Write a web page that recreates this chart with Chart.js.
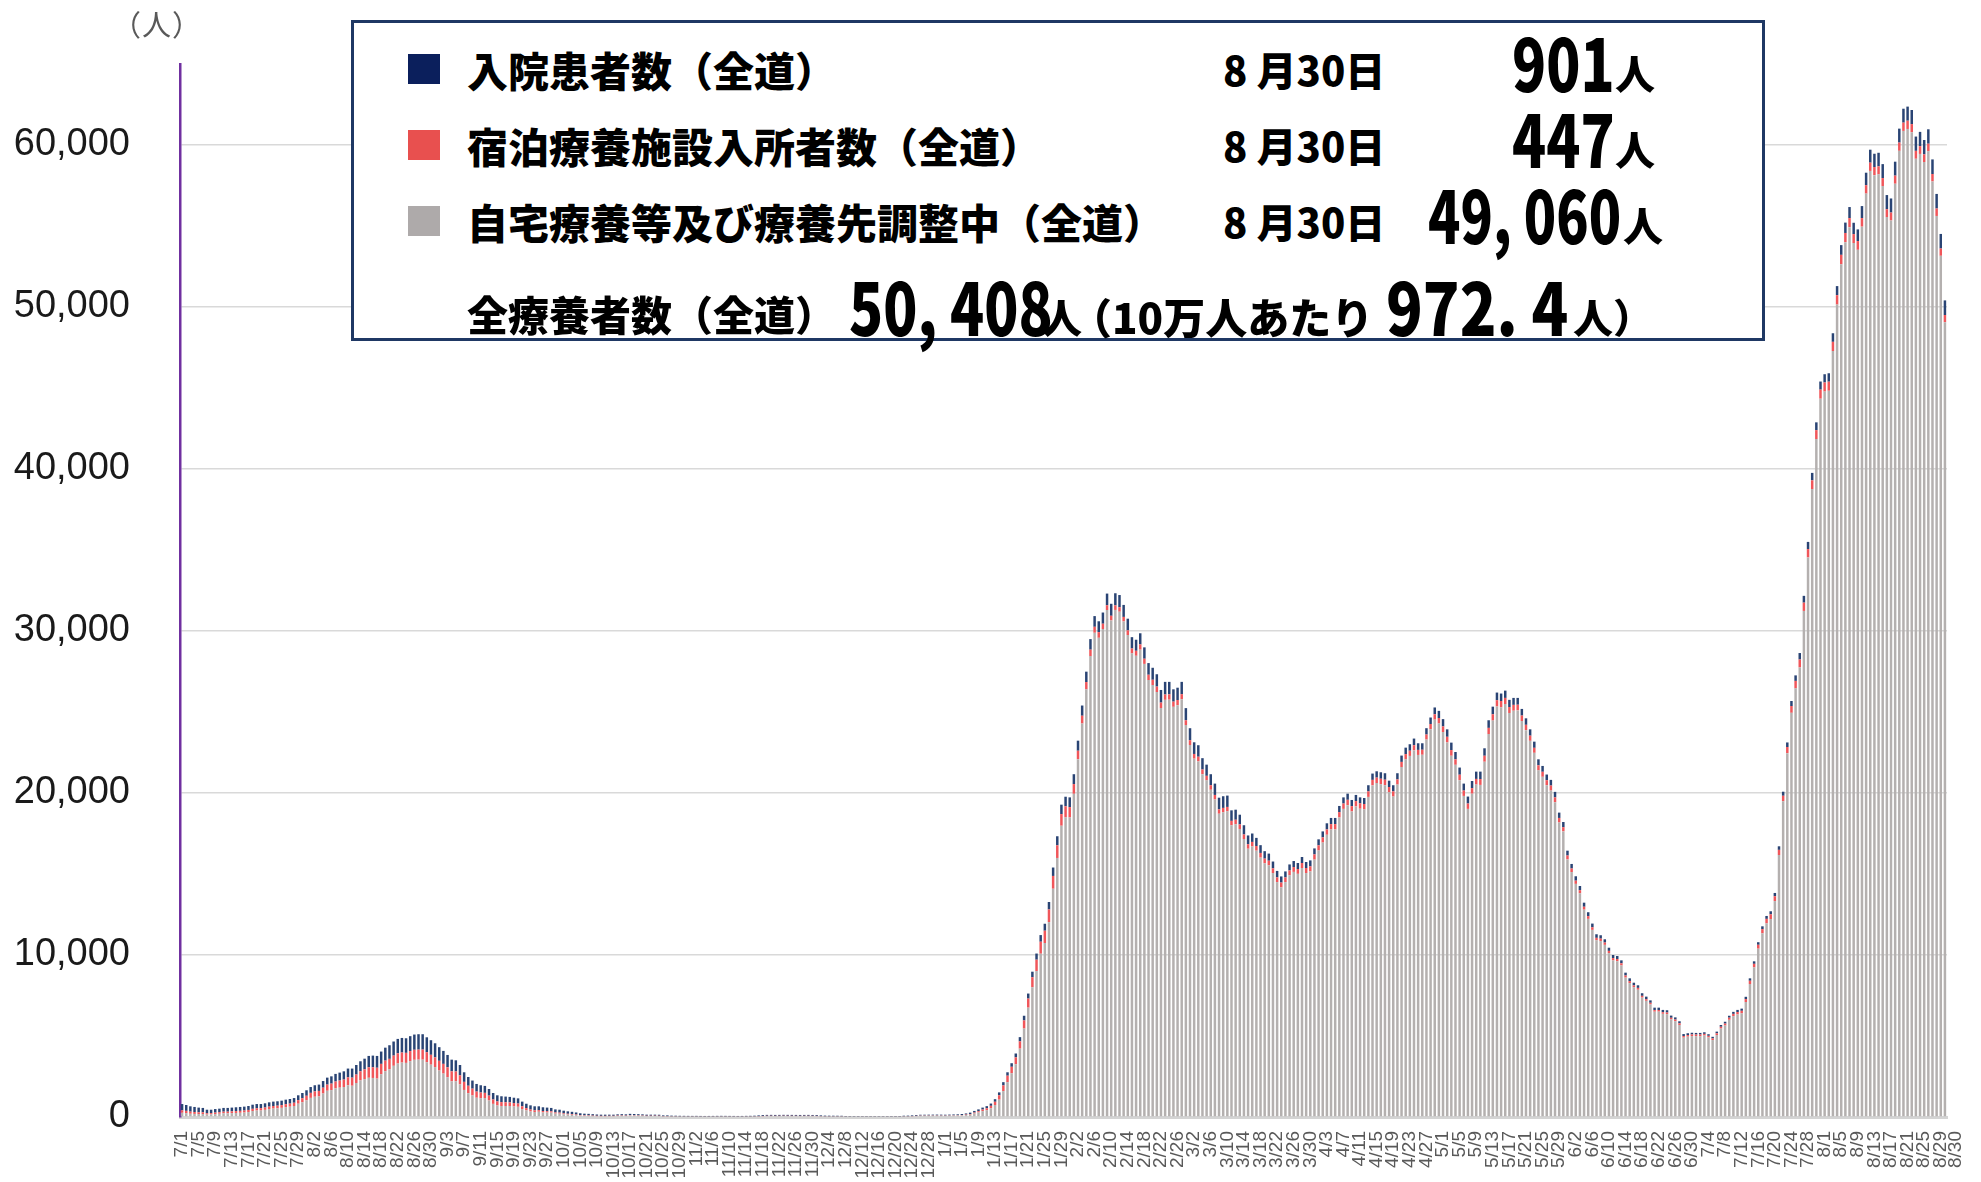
<!DOCTYPE html>
<html lang="ja">
<head>
<meta charset="utf-8">
<title>療養者数の推移（全道）</title>
<script src="https://cdn.jsdelivr.net/npm/chart.js@4.4.1/dist/chart.umd.min.js"></script>
<style>
  html, body { margin: 0; padding: 0; background: #fff; }
  #wrap { position: relative; width: 1981px; height: 1182px; overflow: hidden; }
  #chart { position: absolute; left: 0; top: 0; }
  .unit { position: absolute; left: 112px; top: 2px; font-size: 29px; font-family: "Noto Sans CJK JP"; color: #595959; letter-spacing: 1px; }
  #box { position: absolute; left: 351px; top: 20px; width: 1414px; height: 321px; box-sizing: border-box; border: 3px solid #1f3864; background: #fff; }
  .t { position: absolute; white-space: nowrap; font-family: "Noto Sans CJK JP"; font-weight: 900; color: #000; line-height: 1; transform-origin: left center; }
  .sq { position: absolute; left: 408px; width: 32px; height: 30px; }
  .num { font-size: 72px; }
</style>
</head>
<body>
<div id="wrap">
  <canvas id="chart" width="1981" height="1182"></canvas>
  <div class="unit">（人）</div>
  <div id="box"></div>

  <div class="sq" style="top:54px;background:#0b1f5c"></div>
  <div class="sq" style="top:130px;background:#e8504f"></div>
  <div class="sq" style="top:206px;background:#aeaaaa"></div>

  <div class="t" style="left:467px;top:69px;font-size:41px;transform:translateY(-50%)">入院患者数（全道）</div>
  <div class="t" style="left:467px;top:145px;font-size:41px;transform:translateY(-50%)">宿泊療養施設入所者数（全道）</div>
  <div class="t" style="left:467px;top:221px;font-size:41px;transform:translateY(-50%)">自宅療養等及び療養先調整中（全道）</div>
  <div class="t" style="left:467px;top:313px;font-size:41px;transform:translateY(-50%)">全療養者数（全道）</div>

  <div class="t day" style="left:1223px;top:69px;font-size:40px;transform:translateY(-50%)"></div>
  <div class="t day" style="left:1223px;top:145px;font-size:40px;transform:translateY(-50%)"></div>
  <div class="t day" style="left:1223px;top:221px;font-size:40px;transform:translateY(-50%)"></div>

  <div class="t num" id="nHosp" style="left:1512px;top:61px;transform:translateY(-50%) scaleX(.78)"></div>
  <div class="t num" id="nHotel" style="left:1512px;top:137px;transform:translateY(-50%) scaleX(.78)"></div>
  <div class="t num" id="nHome" style="left:1428px;top:213px;transform:translateY(-50%) scaleX(.74)"></div>
  <div class="t" style="left:1615px;top:72px;font-size:40px;transform:translateY(-50%)">人</div>
  <div class="t" style="left:1615px;top:148px;font-size:40px;transform:translateY(-50%)">人</div>
  <div class="t" style="left:1623px;top:224px;font-size:40px;transform:translateY(-50%)">人</div>

  <div class="t num" id="nTotal" style="left:849px;top:305px;transform:translateY(-50%) scaleX(.78)"></div>
  <div class="t" style="left:1042px;top:316px;font-size:40px;transform:translateY(-50%)">人</div>
  <div class="t" style="left:1070px;top:316px;font-size:42px;transform:translateY(-50%)">（10万人あたり</div>
  <div class="t num" style="left:1386px;top:305px;transform:translateY(-50%) scaleX(.84)">972. 4</div>
  <div class="t" style="left:1573px;top:316px;font-size:40px;transform:translateY(-50%)">人）</div>
</div>

<script>
// 2021/7/1 ～ 2022/8/30 の日別療養者数
const startDate = new Date(2021, 6, 1);

// 入院患者数
const hosp = [
  390,360,330,310,290,270,220,210,220,220,
  230,230,230,235,240,240,245,255,260,255,
  260,265,270,270,275,280,285,290,300,320,
  340,360,380,390,410,430,450,470,490,510,
  540,560,590,620,660,700,720,730,760,800,
  840,870,890,900,900,920,940,950,950,920,
  900,870,840,800,760,720,690,640,590,540,
  500,470,450,430,410,400,380,360,350,340,
  330,320,290,270,260,250,240,230,220,210,
  190,180,165,150,140,125,110,100,95,90,
  80,75,75,72,72,75,78,75,80,78,
  75,72,68,66,65,62,50,50,45,44,
  42,41,40,39,40,38,37,38,39,40,
  41,40,39,38,37,38,40,42,45,50,
  55,56,57,56,56,57,57,56,55,55,
  55,56,54,52,48,44,43,42,41,40,
  32,31,30,30,29,29,28,28,28,28,
  29,30,31,32,40,42,46,50,52,52,
  53,54,55,54,53,55,56,58,62,70,
  85,100,110,120,130,140,160,180,200,210,
  220,240,260,290,310,340,380,410,430,460,
  520,560,580,590,600,610,620,630,640,650,
  660,670,690,720,740,750,750,740,720,700,
  680,690,700,720,740,760,780,780,770,760,
  760,760,750,740,720,710,700,690,680,700,
  720,720,700,650,620,600,570,540,520,500,
  480,460,440,420,400,380,370,370,370,370,
  370,370,370,370,370,370,380,380,380,380,
  380,380,380,380,370,370,380,390,390,400,
  400,390,380,380,390,400,400,410,410,400,
  390,400,420,440,450,460,460,450,440,430,
  430,440,450,460,460,470,470,470,460,450,
  440,430,420,410,400,390,380,370,360,350,
  350,340,330,320,300,280,270,260,250,240,
  230,220,210,200,195,190,185,180,175,170,
  165,160,160,155,150,150,145,140,140,135,
  135,130,120,110,105,100,100,100,100,100,
  105,110,115,120,125,130,135,140,150,155,
  160,170,180,190,200,220,250,280,310,340,
  400,420,440,460,480,500,510,520,530,560,
  600,640,680,700,720,740,770,800,820,840,
  860,870,870,860,860,860,870,870,880,880,
  890,890,900,900,900,901
];

// 宿泊療養施設入所者数
const hotel = [
  150,140,130,120,110,105,80,80,90,95,
  100,105,110,115,120,125,130,135,140,145,
  145,150,160,165,170,180,190,200,220,250,
  280,310,330,340,360,380,400,420,440,460,
  490,500,520,560,600,650,660,670,640,650,
  640,630,630,620,620,620,620,620,620,620,
  610,600,600,600,610,620,600,560,500,460,
  420,380,350,320,300,270,250,240,230,220,
  210,200,170,140,120,100,95,90,85,80,
  70,65,55,50,45,40,35,30,30,28,
  25,25,24,23,22,25,25,24,26,25,
  24,22,20,20,20,20,15,15,12,12,
  10,10,10,10,10,9,9,9,10,10,
  10,10,10,9,9,9,10,11,12,14,
  16,17,17,16,17,17,17,17,16,16,
  16,17,16,15,13,11,11,10,10,10,
  6,6,5,5,5,5,5,5,5,5,
  5,5,6,6,10,10,12,14,15,15,
  16,16,17,16,15,16,18,20,24,30,
  40,60,80,100,120,150,200,270,350,400,
  400,420,450,500,560,620,700,740,760,780,
  790,780,720,680,640,600,520,480,450,400,
  370,350,330,300,290,280,280,280,290,300,
  310,320,320,330,330,340,340,330,330,320,
  320,310,300,300,290,290,290,280,280,280,
  270,270,270,270,280,280,280,280,280,290,
  290,290,290,290,290,290,290,300,300,300,
  310,310,310,320,320,320,330,330,330,330,
  330,330,330,330,330,330,340,340,340,340,
  340,330,320,320,320,320,320,320,310,310,
  310,320,330,340,350,350,350,340,340,330,
  330,340,350,360,370,380,390,390,390,380,
  370,360,350,340,330,320,310,310,310,310,
  310,300,280,260,240,220,200,190,180,170,
  160,150,150,145,145,145,140,135,130,125,
  120,115,110,105,100,100,100,100,100,100,
  100,100,100,100,100,100,100,100,100,100,
  105,110,120,130,140,150,160,180,200,220,
  240,260,280,290,300,320,340,380,420,460,
  490,510,520,540,550,560,560,560,570,580,
  580,570,560,550,540,530,520,510,500,490,
  490,490,490,500,510,510,510,500,490,480,
  470,470,460,460,450,447
];

// 自宅療養等及び療養先調整中
const home = [
  260,240,200,190,180,185,150,160,180,200,
  230,225,240,250,260,275,305,370,400,400,
  440,490,520,535,565,610,635,680,820,910,
  1030,1180,1250,1270,1450,1620,1660,1770,1810,1850,
  1960,1930,2100,2260,2340,2420,2410,2370,2640,2830,
  2950,3160,3300,3360,3340,3450,3530,3540,3540,3380,
  3230,3080,2870,2680,2460,2200,2210,2010,1670,1470,
  1330,1190,1160,1170,1020,810,710,680,680,680,
  650,630,490,410,340,310,325,280,275,270,
  210,205,170,150,135,115,85,75,70,57,
  50,45,46,50,51,65,72,66,89,82,
  76,71,57,59,60,58,35,35,28,24,
  23,21,20,19,20,19,18,19,19,20,
  21,20,19,19,18,19,20,21,25,36,
  49,57,58,56,57,60,58,57,57,55,
  57,57,56,53,39,30,28,28,27,26,
  17,15,15,15,14,14,13,13,12,13,
  14,15,15,17,30,33,42,56,73,75,
  76,78,78,76,74,79,84,87,99,120,
  145,215,280,360,420,540,740,1070,1600,2150,
  2700,3260,4220,5460,6750,8010,9010,10080,10740,12030,
  14090,15990,17980,18500,18490,19950,22090,24290,26400,28450,
  29890,29580,30120,31290,30650,31300,31190,30590,29750,28620,
  28470,28850,27970,26970,26660,26230,25240,25750,25760,25320,
  25420,25790,24190,22960,22120,21950,21160,20780,20200,19600,
  18720,18810,18870,18010,18070,17780,17160,16560,16700,16440,
  16010,15660,15530,15060,14500,14180,14500,14920,15130,15010,
  15370,15060,15160,15890,16450,16940,17420,17750,17750,18490,
  19020,19250,18860,19170,19030,18990,19760,20470,20610,20540,
  20480,20040,19780,20520,21600,22080,22290,22630,22350,22360,
  23300,23940,24530,24290,23760,23120,22300,21740,20790,19820,
  19020,19960,20520,20500,21930,23640,24470,25340,25290,25490,
  24940,25080,25100,24440,23880,23220,22480,21400,21000,20480,
  20150,19430,18180,17630,15900,15120,14390,13810,12800,12230,
  11550,10910,10860,10625,10110,9665,9615,9355,8605,8265,
  8005,7855,7370,7170,6950,6500,6505,6370,6350,6025,
  5915,5680,4900,4960,4995,4990,4990,5030,4910,4750,
  5060,5460,5645,6000,6225,6330,6395,7100,8210,9235,
  10390,11340,11950,12220,13330,16170,19490,22460,24950,26460,
  27750,31240,34540,38760,41850,44340,44780,44830,47280,50150,
  52640,54000,54930,53950,53530,54960,57000,58400,58140,58190,
  57470,55550,55340,57610,59640,60870,60990,60790,59150,59450,
  58950,59610,57750,55620,53160,49060
];

// 日付ラベル (m/d)
const dateLabels = [];
for (let i = 0; i < hosp.length; i++) {
  const d = new Date(startDate.getFullYear(), startDate.getMonth(), startDate.getDate() + i);
  dateLabels.push((d.getMonth() + 1) + "/" + d.getDate());
}

const yTicks = [0, 10000, 20000, 30000, 40000, 50000, 60000];

// 凡例の数値（最終日）
const last = hosp.length - 1;
const fmt = (n) => n.toLocaleString("en-US").replace(",", ", ");
const lastDay = dateLabels[last].split("/");
document.querySelectorAll(".day").forEach((el) => {
  el.textContent = lastDay[0] + " 月" + lastDay[1] + "日";
});
document.getElementById("nHosp").textContent = fmt(hosp[last]);
document.getElementById("nHotel").textContent = fmt(hotel[last]);
document.getElementById("nHome").textContent = fmt(home[last]);
document.getElementById("nTotal").textContent = fmt(hosp[last] + hotel[last] + home[last]);

const ctx = document.getElementById("chart").getContext("2d");

new Chart(ctx, {
  type: "bar",
  data: {
    labels: dateLabels,
    datasets: [
      { label: "自宅療養等及び療養先調整中", data: home, backgroundColor: "#b4b0af" },
      { label: "宿泊療養施設入所者数", data: hotel, backgroundColor: "#f0565a" },
      { label: "入院患者数", data: hosp, backgroundColor: "#2a4474" },
    ],
  },
  options: {
    responsive: false,
    animation: false,
    devicePixelRatio: 1,
    layout: { padding: { top: 64, right: 34, left: 0, bottom: 0 } },
    plugins: {
      legend: { display: false },
      tooltip: { enabled: false },
    },
    datasets: {
      bar: { barPercentage: 0.6, categoryPercentage: 1.0, borderWidth: 0 },
    },
    scales: {
      x: {
        stacked: true,
        grid: { display: false },
        border: { color: "#d4d4d4", width: 3 },
        ticks: {
          autoSkip: false,
          minRotation: 90,
          maxRotation: 90,
          padding: 6,
          color: "#595959",
          // 最終日のラベルは2行目に回して少し右にずらす
          font: (c) => ({ family: "Liberation Sans", size: 19, lineHeight: c.index === last ? 0.55 : 1.2 }),
          callback: (val, i) => {
            if (i === last) return ["", dateLabels[i]];
            return i % 4 === 0 ? dateLabels[i] : "";
          },
        },
        afterFit: (s) => {
          s.height = 65;
        },
      },
      y: {
        stacked: true,
        min: 0,
        max: 65000,
        afterBuildTicks: (s) => {
          s.ticks = yTicks.map((v) => ({ value: v }));
        },
        ticks: {
          padding: 50,
          color: "#1a1a1a",
          font: { family: "Liberation Sans", size: 38 },
          callback: (v) => v.toLocaleString("en-US"),
        },
        grid: { color: "#d9d9d9", lineWidth: 1.5, drawTicks: false },
        border: { color: "#7030a0", width: 2.5 },
        afterFit: (s) => {
          s.width = 180;
          s.paddingTop = 0;
          s.paddingBottom = 0;
        },
      },
    },
  },
});
</script>
</body>
</html>
